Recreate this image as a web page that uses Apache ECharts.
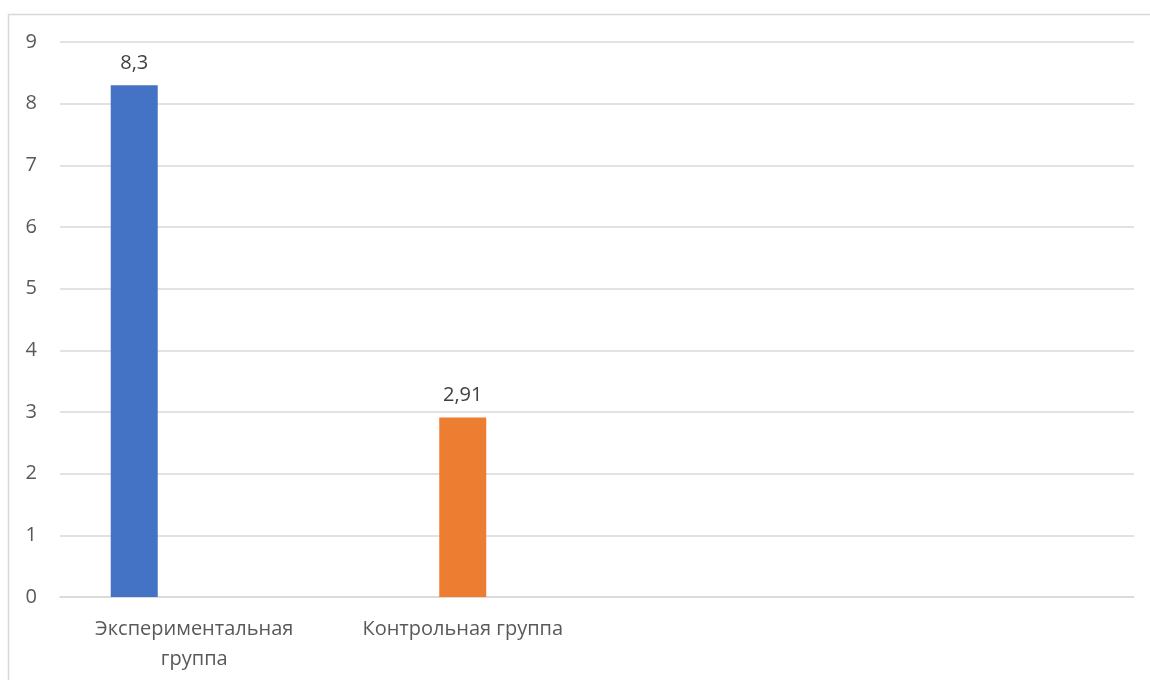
<!DOCTYPE html>
<html>
<head>
<meta charset="utf-8">
<script src="https://cdn.jsdelivr.net/npm/echarts@6/dist/echarts.min.js"></script>
<style>
html,body{margin:0;padding:0;background:#fff;}
#chart{width:1150px;height:680px;}
</style>
</head>
<body>
<div id="chart"></div>
<script>
const categories = ['Экспериментальная группа', 'Контрольная группа', '', ''];
const seriesNames = ['Экспериментальная группа', 'Контрольная группа', 'Ряд 3'];
const experimentalValues = [8.3, '-', '-', '-'];
const controlValues = ['-', 2.91, '-', '-'];
const emptyValues = ['-', '-', '-', '-'];
const yTicks = [0, 1, 2, 3, 4, 5, 6, 7, 8, 9];
const colors = ['#4472C4', '#ED7D31', '#A5A5A5'];

const FONT = '"Open Sans", "Noto Sans", sans-serif';
const chart = echarts.init(document.getElementById('chart'), null, {renderer: 'canvas'});

function labelFmt(p) {
  return String(p.value).replace('.', ',');
}
// wrap long category names (as the original wraps text wider than its slot)
function catFmt(v) {
  if (v.length > 20) {
    const i = v.indexOf(' ');
    if (i > 0) return v.slice(0, i) + '\n' + v.slice(i + 1);
  }
  return v;
}

const valueSets = [experimentalValues, controlValues, emptyValues];
const series = valueSets.map((vals, i) => ({
  name: seriesNames[i],
  type: 'bar',
  data: vals,
  barWidth: 47,
  barGap: '27.7%',
  itemStyle: {color: colors[i]},
  label: {
    show: true,
    position: 'top',
    distance: 12,
    formatter: labelFmt,
    fontFamily: FONT,
    fontSize: 20,
    color: '#404040'
  }
}));

chart.setOption({
  animation: false,
  backgroundColor: '#ffffff',
  graphic: [{
    type: 'rect',
    shape: {x: 8.5, y: 14.5, width: 1200, height: 700},
    style: {fill: 'none', stroke: '#d9d9d9', lineWidth: 1.5},
    silent: true
  }],
  grid: {left: 60, right: 16, top: 42, bottom: 83, containLabel: false},
  xAxis: {
    type: 'category',
    data: categories,
    axisLine: {show: true, lineStyle: {color: '#d9d9d9', width: 1.5}},
    axisTick: {show: false},
    axisLabel: {
      interval: 0,
      margin: 17,
      fontFamily: FONT,
      fontSize: 20,
      color: '#595959',
      lineHeight: 30,
      formatter: catFmt
    },
    splitLine: {show: false}
  },
  yAxis: {
    type: 'value',
    min: yTicks[0],
    max: yTicks[yTicks.length - 1],
    interval: 1,
    axisLine: {show: false},
    axisTick: {show: false},
    axisLabel: {
      margin: 23,
      fontFamily: FONT,
      fontSize: 20,
      color: '#595959'
    },
    splitLine: {show: true, lineStyle: {color: '#d9d9d9', width: 1.5}}
  },
  series: series
});
</script>
</body>
</html>
